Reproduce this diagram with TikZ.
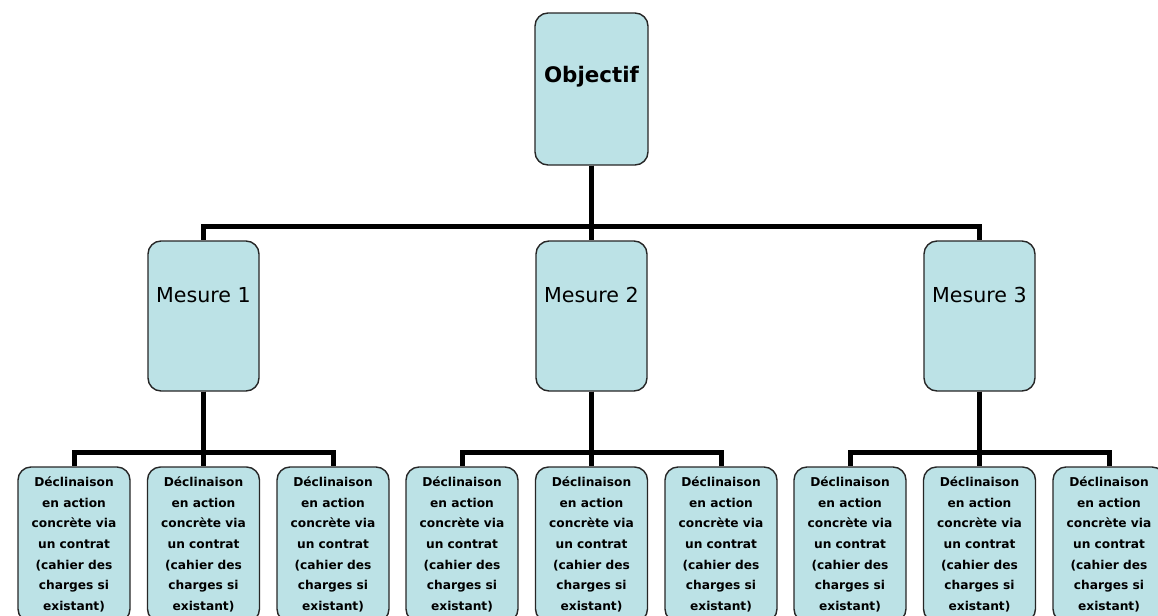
\documentclass[tikz,border=0pt]{standalone}
\usepackage{fontspec}
\setmainfont{DejaVu Sans}
\definecolor{boxfill}{RGB}{188,226,230}
\newcommand{\decl}{Déclinaison\\en action\\concrète via\\un contrat\\(cahier des\\charges si\\existant)}
\begin{document}
\begin{tikzpicture}
	[x=0.5pt,y=-0.5pt,
	box/.style={draw=black!85,line width=0.7pt,fill=boxfill,rounded corners=6.5pt},
	obj/.style={box,minimum width=56.5pt,minimum height=76pt},
	mes/.style={box,minimum width=55.5pt,minimum height=75pt},
	dec/.style={box,minimum width=56pt,minimum height=77.5pt,inner sep=0pt,align=center,
		font=\fontsize{6.1}{10.35}\selectfont\bfseries},
	lab/.style={inner sep=0pt,font=\fontsize{10.3}{12}\selectfont},
	level 1/.style={sibling distance=194pt,level distance=113.5pt},
	level 2/.style={sibling distance=64.75pt,level distance=114.25pt},
	edge from parent/.style={draw,line width=2.5pt},
	edge from parent path={(\tikzparentnode.south) -- ++(0,-30.5pt) -| (\tikzchildnode.north)}]
	\useasboundingbox (0,0) rectangle (1158,616);
	\clip (0,0) rectangle (1158,616);
	\node[obj,name=obj,label={[lab,font=\fontsize{10.7}{12}\selectfont\bfseries,yshift=6pt]center:Objectif}] at (591.5,89) {}
	child{
		node[mes,name=m1,label={[lab,yshift=10.5pt]center:Mesure 1}]{}
		child{node[dec,name=d11]{\decl}}
		child{node[dec,name=d12]{\decl}}
		child{node[dec,name=d13]{\decl}}
	}
	child{
		node[mes,name=m2,label={[lab,yshift=10.5pt]center:Mesure 2}]{}
		child{node[dec,name=d21]{\decl}}
		child{node[dec,name=d22]{\decl}}
		child{node[dec,name=d23]{\decl}}
	}
	child{
		node[mes,name=m3,label={[lab,yshift=10.5pt]center:Mesure 3}]{}
		child{node[dec,name=d31]{\decl}}
		child{node[dec,name=d32]{\decl}}
		child{node[dec,name=d33]{\decl}}
	};
\end{tikzpicture}
\end{document}
